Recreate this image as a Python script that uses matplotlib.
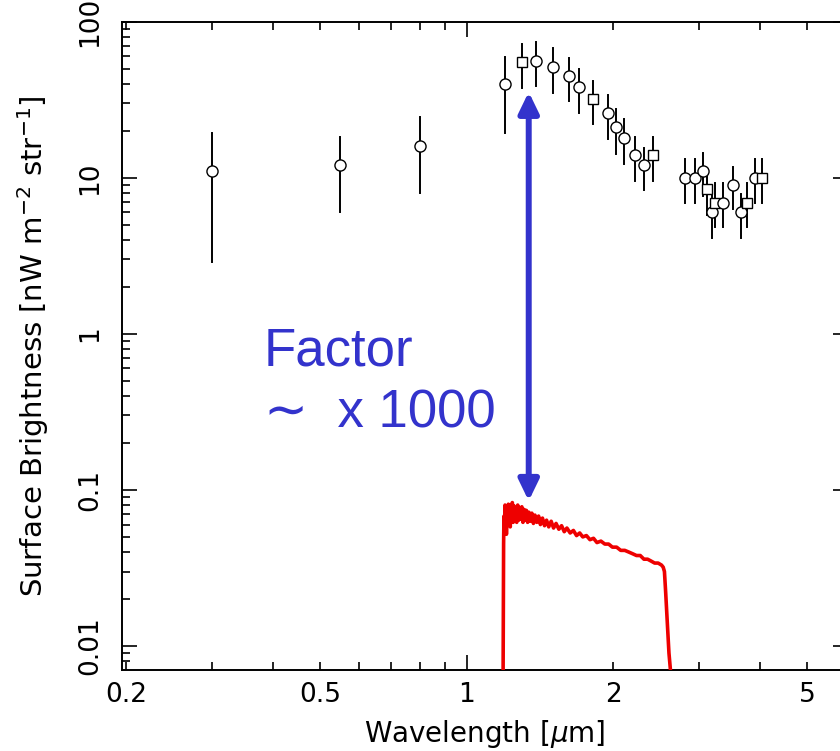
import matplotlib
matplotlib.use("Agg")
import matplotlib.pyplot as plt
from matplotlib.ticker import LogLocator, FixedLocator, FixedFormatter, NullFormatter

# ---- data: measured surface brightness points ----
wavelength = [0.30, 0.55, 0.80, 1.20, 1.30, 1.39, 1.50, 1.62, 1.70, 1.82, 1.95, 2.02,
              2.10, 2.21, 2.31, 2.41, 2.80, 2.94, 3.06, 3.11, 3.18, 3.23, 3.35, 3.52,
              3.66, 3.76, 3.90, 4.03]
brightness = [11, 12, 16, 40, 55, 56, 51, 45, 38, 32, 26, 21,
              18, 14, 12, 14, 10, 10, 11, 8.5, 6.0, 6.9, 6.9, 9.0,
              6.0, 6.9, 10, 10]
upper = [19.4, 18.3, 24.6, 59.7, 72, 74, 67.6, 58.8, 49.5, 41.9, 33.9, 27.4,
         23.8, 18.3, 15.6, 18.3, 13.1, 13.1, 14.5, 10.9, 7.9, 9.2, 9.2, 11.8,
         7.9, 9.2, 13.1, 13.1]
lower = [2.9, 6.0, 7.95, 19.4, 37.8, 38.7, 35, 31.2, 25.9, 22.0, 17.7, 14.3,
         12.3, 9.6, 8.3, 9.6, 6.9, 6.9, 7.6, 5.8, 4.1, 4.85, 4.85, 6.3,
         4.1, 4.85, 6.9, 6.9]
markers = ['o', 'o', 'o', 'o', 's', 'o', 'o', 'o', 'o', 's', 'o', 'o',
           'o', 'o', 'o', 's', 'o', 'o', 'o', 's', 'o', 's', 'o', 'o',
           'o', 's', 'o', 's']

# ---- data: red spectrum ----
spec_wl = [1.186, 1.190, 1.192, 1.195, 1.198, 1.200, 1.203, 1.206, 1.210, 1.213,
           1.217, 1.220, 1.224, 1.228, 1.232, 1.236, 1.240, 1.245, 1.250, 1.255,
           1.260, 1.266, 1.272, 1.278, 1.284, 1.290, 1.297, 1.304, 1.311, 1.318,
           1.325, 1.333, 1.341, 1.350, 1.360, 1.370, 1.380, 1.392, 1.404, 1.416,
           1.430, 1.444, 1.458, 1.473, 1.490, 1.507, 1.525, 1.545, 1.565, 1.585,
           1.605, 1.630, 1.655, 1.680, 1.705, 1.730, 1.760, 1.790, 1.820, 1.850,
           1.885, 1.920, 1.955, 1.990, 2.030, 2.070, 2.110, 2.150, 2.190, 2.230,
           2.270, 2.310, 2.350, 2.390, 2.430, 2.470, 2.510, 2.530, 2.545, 2.560,
           2.580, 2.600, 2.630, 2.660]
spec_sb = [0.003, 0.045, 0.068, 0.055, 0.080, 0.058, 0.078, 0.052, 0.076, 0.060,
           0.081, 0.063, 0.078, 0.058, 0.080, 0.064, 0.083, 0.062, 0.079, 0.066,
           0.077, 0.062, 0.080, 0.064, 0.076, 0.065, 0.078, 0.062, 0.075, 0.064,
           0.074, 0.062, 0.072, 0.063, 0.071, 0.061, 0.069, 0.062, 0.068, 0.060,
           0.066, 0.059, 0.064, 0.058, 0.063, 0.057, 0.061, 0.056, 0.059, 0.054,
           0.057, 0.053, 0.055, 0.051, 0.053, 0.050, 0.051, 0.048, 0.049, 0.046,
           0.047, 0.045, 0.045, 0.043, 0.043, 0.041, 0.041, 0.040, 0.039, 0.038,
           0.038, 0.036, 0.036, 0.035, 0.034, 0.034, 0.033, 0.032, 0.030, 0.022,
           0.014, 0.009, 0.006, 0.004]

# ---- annotation ----
arrow_x = 1.34
arrow_top = 35.5
arrow_bottom = 0.085
annot_text = "Factor\n\u223c  x 1000"

xlim = (0.196, 6.06)
ylim = (0.00702, 100)
xtick_vals = [0.2, 0.5, 1, 2, 5]
xtick_labels = ["0.2", "0.5", "1", "2", "5"]
ytick_vals = [0.01, 0.1, 1, 10, 100]
ytick_labels = ["0.01", "0.1", "1", "10", "100"]

fig = plt.figure(figsize=(8.4, 7.51), dpi=100)
ax = fig.add_axes([122 / 840, 81 / 751, 726 / 840, 648.3 / 751])
ax.set_xscale('log')
ax.set_yscale('log')
ax.set_xlim(*xlim)
ax.set_ylim(*ylim)

# red spectrum
ax.plot(spec_wl, spec_sb, color='#ee0000', lw=2.6, zorder=3)

# measured points with error bars
for w, b, u, l, m in zip(wavelength, brightness, upper, lower, markers):
    ax.plot([w, w], [l, u], color='black', lw=1.4, zorder=4)
    ax.plot([w], [b], marker=m, mfc='white', mec='black', mew=1.0,
            ms=8 if m == 'o' else 6.5, ls='none', zorder=5)

# double-headed arrow
ax.annotate('', xy=(arrow_x, arrow_bottom), xytext=(arrow_x, arrow_top),
            arrowprops=dict(arrowstyle='<|-|>,head_width=0.3,head_length=0.62',
                            mutation_scale=20, color='#3333cc', lw=4.3,
                            shrinkA=0, shrinkB=0), zorder=6)
ax.text(0.195, 0.530, annot_text, transform=ax.transAxes, color='#3333cc',
        fontsize=38, family=['Liberation Sans', 'DejaVu Sans'], va='top', ha='left',
        linespacing=1.3)

# ticks
ax.xaxis.set_major_locator(FixedLocator([1]))
ax.xaxis.set_minor_locator(FixedLocator([0.2, 0.3, 0.4, 0.5, 0.6, 0.7, 0.8, 0.9,
                                          2, 3, 4, 5, 6]))
ax.xaxis.set_major_formatter(NullFormatter())
ax.xaxis.set_minor_formatter(NullFormatter())
for v, t in zip(xtick_vals, xtick_labels):
    ax.text(v, -0.019, t, transform=ax.get_xaxis_transform(), ha='center', va='top',
            fontsize=19)

ax.yaxis.set_major_locator(FixedLocator(ytick_vals))
ax.yaxis.set_major_formatter(FixedFormatter(ytick_labels))
ax.yaxis.set_minor_locator(LogLocator(base=10, subs=[2, 3, 4, 5, 6, 7, 8, 9]))
ax.yaxis.set_minor_formatter(NullFormatter())

ax.tick_params(which='both', direction='in', top=True, right=True, width=1.2, color='black')
ax.tick_params(which='major', length=11)
ax.tick_params(which='minor', length=6)
ax.tick_params(axis='y', which='major', labelsize=19, pad=13.5)
for lab in ax.get_yticklabels():
    lab.set_rotation(90)
    lab.set_va('center')

for s in ax.spines.values():
    s.set_linewidth(1.4)

ax.set_xlabel(r'Wavelength [$\mu$m]', fontsize=20, labelpad=31)
ax.set_ylabel(r'Surface Brightness [nW m$^{-2}$ str$^{-1}$]', fontsize=21, labelpad=19)

fig.savefig('out.png', dpi=100)
